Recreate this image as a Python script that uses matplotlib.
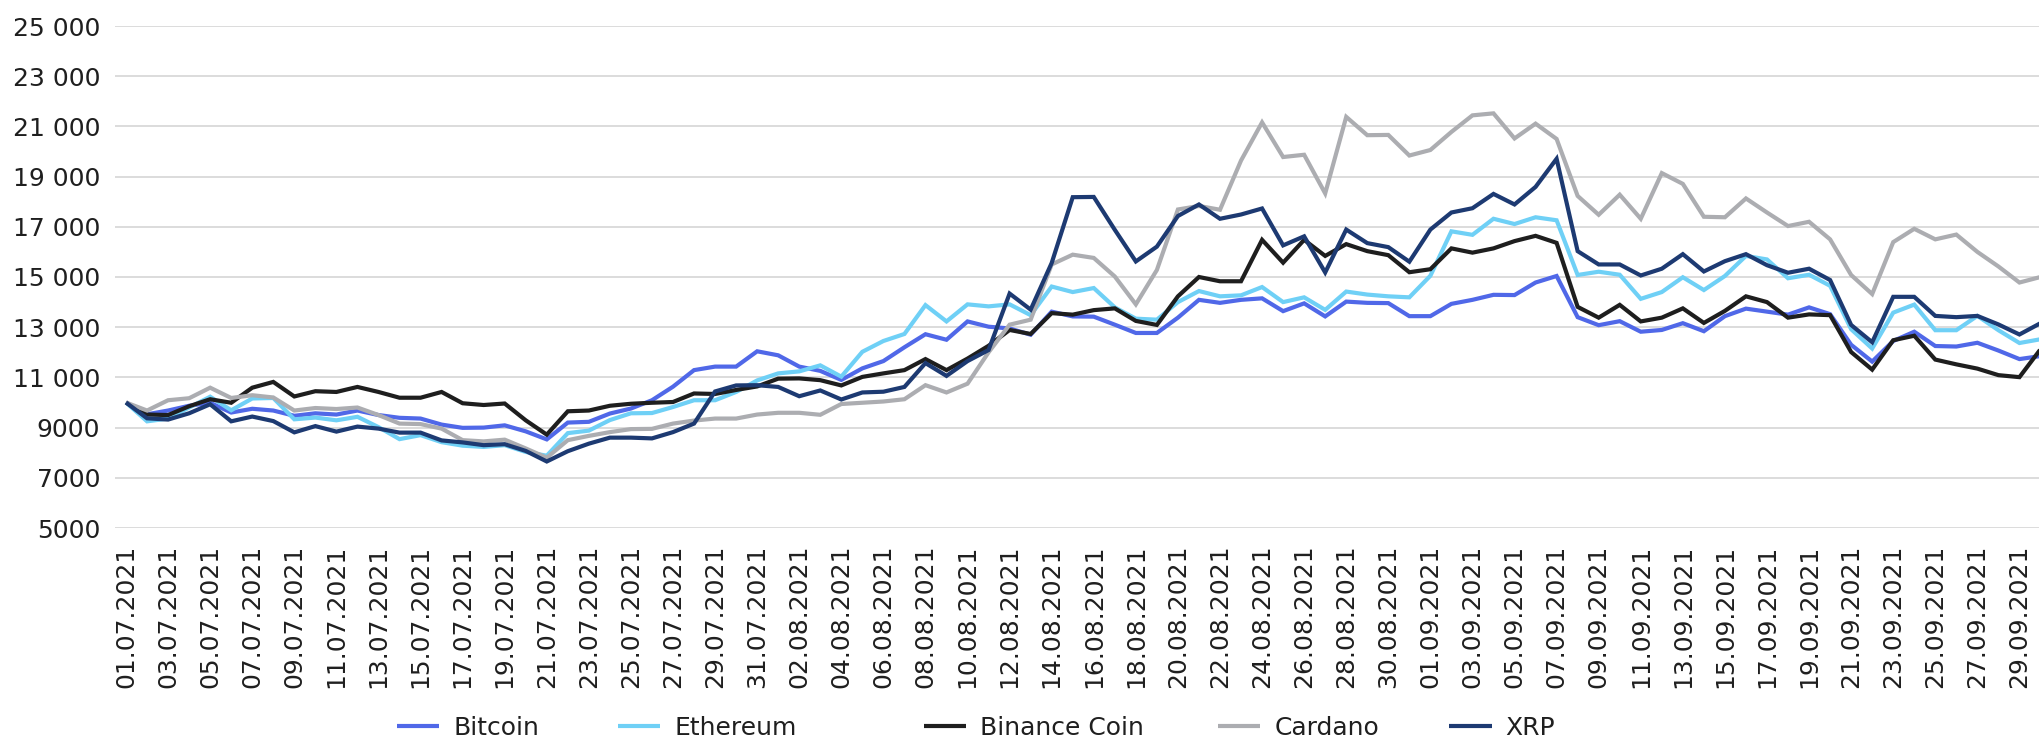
#! /usr/bin/python3
# Import statements
import pandas as pd
import matplotlib
matplotlib.use("Agg")
import matplotlib.pyplot as plt
from matplotlib.ticker import FuncFormatter

# Dates on the category axis (one point per day, 01.07.2021 - 30.09.2021)
dates = pd.date_range("2021-07-01", "2021-09-30", freq="D")
dateLabels = [d.strftime("%d.%m.%Y") for d in dates]

seriesNames = ["Bitcoin", "Ethereum", "Binance Coin", "Cardano", "XRP"]

# Value of 10 000 invested on 01.07.2021
bitcoin = [10000, 9530, 9680, 9870, 9990, 9600, 9750, 9680, 9470, 9570,
           9520, 9680, 9500, 9390, 9360, 9120, 8990, 9000, 9090, 8850,
           8530, 9200, 9230, 9560, 9760, 10090, 10630, 11290, 11430, 11430,
           12040, 11880, 11430, 11260, 10900, 11360, 11650, 12200, 12720, 12500,
           13230, 13020, 12950, 12700, 13620, 13430, 13420, 13100, 12770, 12770,
           13380, 14090, 13970, 14090, 14150, 13640, 13950, 13430, 14020, 13970,
           13960, 13440, 13440, 13930, 14090, 14290, 14280, 14780, 15040, 13400,
           13080, 13240, 12820, 12890, 13160, 12840, 13440, 13740, 13620, 13500,
           13790, 13520, 12300, 11630, 12450, 12820, 12250, 12230, 12380, 12070,
           11730, 11850]
ethereum = [10000, 9250, 9360, 9800, 10230, 9690, 10160, 10180, 9330, 9400,
            9290, 9430, 9020, 8540, 8700, 8420, 8280, 8230, 8300, 8030,
            7880, 8780, 8880, 9300, 9570, 9580, 9820, 10090, 10090, 10420,
            10880, 11160, 11240, 11480, 11030, 12020, 12450, 12730, 13880, 13230,
            13910, 13830, 13910, 13480, 14620, 14400, 14560, 13790, 13340, 13300,
            14000, 14440, 14230, 14270, 14600, 14000, 14190, 13690, 14420, 14300,
            14230, 14190, 15050, 16820, 16680, 17320, 17110, 17380, 17260, 15080,
            15210, 15090, 14130, 14400, 14990, 14480, 15040, 15840, 15700, 14950,
            15090, 14650, 12920, 12150, 13580, 13900, 12880, 12880, 13450, 12880,
            12370, 12520]
binanceCoin = [10000, 9520, 9500, 9850, 10130, 9990, 10590, 10820, 10240, 10450,
               10420, 10620, 10420, 10190, 10190, 10420, 9970, 9900, 9960, 9290,
               8720, 9650, 9680, 9870, 9950, 9990, 10020, 10360, 10340, 10500,
               10640, 10950, 10960, 10890, 10680, 11020, 11160, 11290, 11730, 11290,
               11750, 12260, 12890, 12730, 13560, 13500, 13680, 13750, 13250, 13090,
               14230, 15000, 14830, 14830, 16480, 15570, 16480, 15840, 16310, 16030,
               15870, 15190, 15310, 16140, 15970, 16140, 16430, 16640, 16360, 13810,
               13380, 13890, 13230, 13380, 13750, 13170, 13650, 14230, 14000, 13380,
               13510, 13480, 12010, 11310, 12480, 12660, 11710, 11520, 11350, 11090,
               11010, 12120]
cardano = [10000, 9680, 10090, 10170, 10590, 10180, 10290, 10200, 9680, 9780,
           9740, 9800, 9500, 9160, 9140, 8960, 8500, 8450, 8520, 8170,
           7800, 8500, 8670, 8820, 8940, 8950, 9160, 9280, 9360, 9360,
           9520, 9590, 9590, 9510, 9940, 9990, 10040, 10130, 10690, 10400,
           10750, 12000, 13100, 13300, 15500, 15890, 15760, 15020, 13910, 15280,
           17690, 17830, 17680, 19640, 21160, 19780, 19870, 18330, 21380, 20650,
           20660, 19840, 20060, 20780, 21440, 21520, 20520, 21110, 20500, 18230,
           17480, 18280, 17320, 19140, 18710, 17400, 17380, 18130, 17570, 17030,
           17200, 16500, 15080, 14320, 16390, 16920, 16500, 16690, 16000, 15420,
           14780, 15000]
xrp = [10000, 9370, 9320, 9570, 9930, 9250, 9440, 9260, 8810, 9060,
       8840, 9040, 8960, 8800, 8800, 8490, 8410, 8300, 8340, 8070,
       7650, 8060, 8360, 8600, 8600, 8570, 8820, 9160, 10440, 10680,
       10690, 10620, 10250, 10480, 10120, 10400, 10430, 10620, 11570, 11060,
       11650, 12090, 14340, 13700, 15560, 18180, 18190, 16880, 15620, 16210,
       17430, 17890, 17320, 17490, 17730, 16260, 16620, 15180, 16890, 16350,
       16190, 15610, 16890, 17570, 17740, 18310, 17890, 18590, 19710, 16030,
       15500, 15500, 15060, 15330, 15910, 15220, 15630, 15910, 15470, 15170,
       15330, 14880, 13090, 12400, 14210, 14210, 13450, 13400, 13450, 13110,
       12710, 13160]

yTicks = [5000, 7000, 9000, 11000, 13000, 15000, 17000, 19000, 21000, 23000, 25000]

seriesColors = ["#5068e8", "#6fd0f6", "#1e1e1e", "#acadb1", "#1d3a72"]
# Left edge (px) of each legend entry, as laid out in the reference
legendLeft = [397, 618, 924, 1218, 1449]


# Excel style number format: space as thousands separator, none below 10 000
def formatValue(value, pos):
    if value >= 10000:
        return "{:,.0f}".format(value).replace(",", " ")
    return "{:.0f}".format(value)


plt.rcParams["font.family"] = ["DejaVu Sans"]
plt.rcParams["font.size"] = 18
textColor = "#1f1f1f"

fig = plt.figure(figsize=(20.4, 7.38), dpi=100)
# Plot area runs a little past the right edge of the picture, as in the reference
ax = fig.add_axes([115.5 / 2040, 210 / 738, 1935.5 / 2040, 502 / 738])

allSeries = [bitcoin, ethereum, binanceCoin, cardano, xrp]
xPos = list(range(len(dates)))
lines = []
for name, values, color in zip(seriesNames, allSeries, seriesColors):
    line, = ax.plot(xPos, values, color=color, linewidth=3.0, label=name,
                    solid_joinstyle="miter", solid_capstyle="butt")
    lines.append(line)

ax.set_xlim(-0.5, len(dates) - 0.5)
ax.set_ylim(yTicks[0], yTicks[-1])
ax.set_yticks(yTicks)
ax.yaxis.set_major_formatter(FuncFormatter(formatValue))
ax.set_xticks(xPos[::2])
ax.set_xticklabels(dateLabels[::2], rotation=90, va="top", ha="center")

# Horizontal grid only, no frame
ax.grid(axis="y", color="#d9d9d9", linewidth=1.3)
ax.set_axisbelow(True)
for spine in ax.spines.values():
    spine.set_visible(False)
ax.tick_params(axis="both", length=0, colors=textColor, labelsize=18)
ax.tick_params(axis="y", pad=11)
ax.tick_params(axis="x", pad=12)

# Legend under the chart, one entry at a time so the uneven spacing is kept
for line, name, left in zip(lines, seriesNames, legendLeft):
    fig.legend(handles=[line], labels=[name], loc="center left",
               bbox_to_anchor=(left / 2040, 0.014), frameon=False,
               handlelength=1.7, handletextpad=0.55, fontsize=18,
               labelcolor=textColor, borderpad=0, borderaxespad=0)

fig.savefig("out.png", dpi=100)
